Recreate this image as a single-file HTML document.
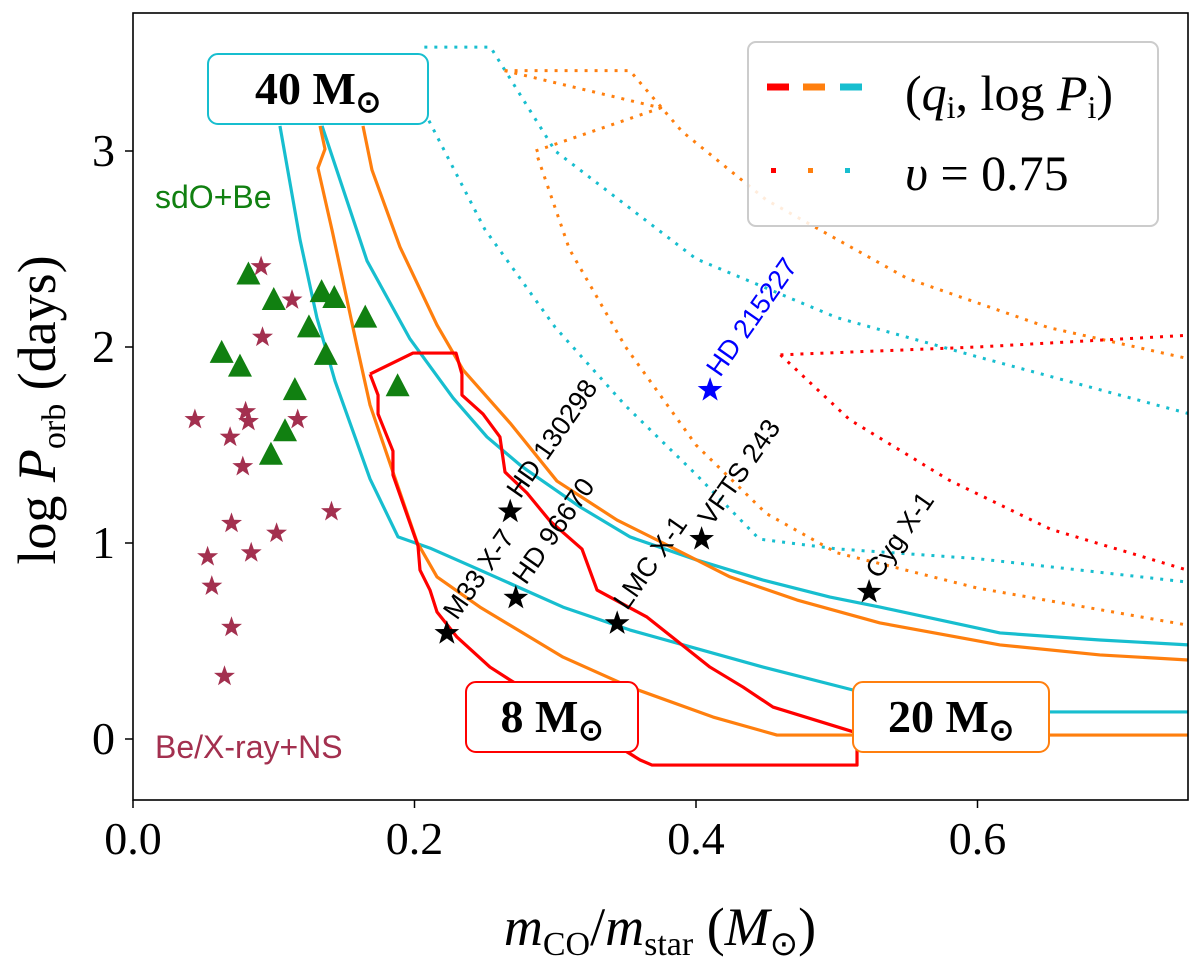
<!DOCTYPE html>
<html><head><meta charset="utf-8"><style>
body{margin:0;background:#fff;}
svg{display:block;}
.serif{font-family:"Liberation Serif",serif;}
.sans{font-family:"Liberation Sans",sans-serif;}
</style></head><body>
<svg id="chart" width="1200" height="977" xmlns="http://www.w3.org/2000/svg">
<g id="plot"></g>
<g id="axes"></g>
</svg>
<script>
const xTicks=[0.0,0.2,0.4,0.6];
const yTicks=[0,1,2,3];
const cyanA=[[0.1044,3.128],[0.1187,2.546],[0.1307,2.148],[0.1435,1.827],[0.1684,1.327],[0.1883,1.031],[0.2110,0.974],[0.2465,0.862],[0.3055,0.673],[0.3531,0.556],[0.4476,0.367],[0.5115,0.25],[0.5307,0.138],[0.75,0.138]];
const cyanB=[[0.1343,3.128],[0.1663,2.439],[0.1968,2.041],[0.2274,1.740],[0.2515,1.541],[0.2750,1.398],[0.2799,1.372],[0.3176,1.184],[0.3531,1.031],[0.4007,0.913],[0.4476,0.811],[0.4952,0.724],[0.5307,0.673],[0.616,0.541],[0.687,0.505],[0.75,0.48]];
const orangeA=[[0.1634,3.128],[0.1698,2.903],[0.1897,2.510],[0.2160,2.112],[0.2345,1.883],[0.2679,1.612],[0.3012,1.316],[0.3439,1.117],[0.3766,1.0],[0.4242,0.827],[0.4718,0.709],[0.5307,0.592],[0.616,0.480],[0.687,0.429],[0.75,0.403]];
const orangeB=[[0.1329,3.128],[0.1364,3.010],[0.1314,2.913],[0.1414,2.597],[0.1591,2.005],[0.1684,1.704],[0.1847,1.362],[0.2018,1.005],[0.2160,0.827],[0.2465,0.673],[0.3055,0.418],[0.3531,0.265],[0.4121,0.112],[0.4575,0.020],[0.75,0.020]];
const redLoop=[[0.1684,1.862],[0.1989,1.969],[0.2295,1.969],[0.2337,1.862],[0.2337,1.755],[0.2487,1.658],[0.2607,1.541],[0.2643,1.362],[0.2799,1.255],[0.2963,1.112],[0.3190,0.969],[0.3297,0.760],[0.3652,0.622],[0.4099,0.367],[0.4334,0.265],[0.4547,0.163],[0.5144,0.031],[0.5144,-0.133],[0.3687,-0.133],[0.3603,-0.107],[0.2679,0.301],[0.2536,0.367],[0.2302,0.520],[0.2160,0.648],[0.2110,0.760],[0.2039,0.862],[0.2025,0.985],[0.1847,1.347],[0.1847,1.469],[0.1741,1.658],[0.1741,1.755],[0.1684,1.862]];
const cyanDotA=[[0.207,3.2],[0.25,2.6],[0.3,2.1],[0.35,1.7],[0.4,1.35],[0.445,1.02],[0.5,0.97],[0.6,0.92],[0.75,0.8]];
const cyanDotB=[[0.207,3.53],[0.254,3.53],[0.3,3.0],[0.4,2.45],[0.5,2.15],[0.6,1.95],[0.75,1.66]];
const orangeDotA=[[0.264,3.41],[0.353,3.41],[0.39,3.1],[0.45,2.75],[0.55,2.35],[0.65,2.1],[0.75,1.94]];
const orangeDotB=[[0.264,3.41],[0.375,3.22],[0.286,3.0],[0.31,2.5],[0.35,2.0],[0.4,1.5],[0.45,1.15],[0.5,0.95],[0.6,0.77],[0.75,0.58]];
const redDotA=[[0.46,1.96],[0.6,2.0],[0.75,2.06]];
const redDotB=[[0.46,1.96],[0.509,1.63],[0.58,1.32],[0.652,1.07],[0.75,0.86]];
const bhNames=["M33 X-7","HD 96670","HD 130298","LMC X-1","VFTS 243","Cyg X-1"];
const bhQ=[0.223,0.272,0.268,0.344,0.404,0.523];
const bhP=[0.54,0.72,1.16,0.59,1.02,0.75];
const blueQ=[0.41],blueP=[1.78];
const triQ=[0.082,0.1,0.134,0.143,0.165,0.125,0.063,0.076,0.137,0.115,0.188,0.108,0.098];
const triP=[2.37,2.24,2.28,2.25,2.15,2.1,1.97,1.9,1.96,1.78,1.8,1.57,1.45];
const nsQ=[0.091,0.113,0.092,0.044,0.08,0.082,0.069,0.117,0.078,0.141,0.07,0.102,0.084,0.053,0.056,0.07,0.065];
const nsP=[2.41,2.24,2.05,1.63,1.67,1.62,1.54,1.63,1.39,1.16,1.1,1.05,0.95,0.93,0.78,0.57,0.32];

const L=133,R=1188,T=13,B=800;
const X=q=>L+q*1407.5;
const Y=p=>739-p*196;
const NS="http://www.w3.org/2000/svg";
const plot=document.getElementById('plot'),axes=document.getElementById('axes');
function mk(tag,attrs,parent,text){const e=document.createElementNS(NS,tag);for(const k in attrs)e.setAttribute(k,attrs[k]);if(text!==undefined)e.textContent=text;parent.appendChild(e);return e;}
const clip=mk('clipPath',{id:'cl'},plot);mk('rect',{x:L,y:T,width:R-L,height:B-T},clip);
const g=mk('g',{'clip-path':'url(#cl)'},plot);
function line(pts,color,dash,name){
  const e=mk('polyline',{points:pts.map(p=>X(p[0])+','+Y(p[1])).join(' '),fill:'none',stroke:color,'stroke-width':dash?3:3.2,'stroke-dasharray':dash?'3,7':'none','stroke-linejoin':'round'},g);
  
  
}
line(cyanDotA,'#17becf',true,'cyan-dotted-inner');
line(cyanDotB,'#17becf',true,'cyan-dotted-outer');
line(orangeDotA,'#ff7f0e',true,'orange-dotted-outer');
line(orangeDotB,'#ff7f0e',true,'orange-dotted-inner');
line(redDotA,'#ff0000',true,'red-dotted-upper');
line(redDotB,'#ff0000',true,'red-dotted-lower');
line(cyanA,'#17becf',false,'cyan-line-a');
line(cyanB,'#17becf',false,'cyan-line-b');
line(orangeA,'#ff7f0e',false,'orange-line-a');
line(orangeB,'#ff7f0e',false,'orange-line-b');
line(redLoop,'#ff0000',false,'red-loop');
function star(cx,cy,r,fill){let pts=[];for(let i=0;i<10;i++){const a=-Math.PI/2+i*Math.PI/5;const rr=i%2?r*0.4:r;pts.push((cx+rr*Math.cos(a)).toFixed(1)+','+(cy+rr*Math.sin(a)).toFixed(1));}return mk('polygon',{points:pts.join(' '),fill:fill},g);}
nsQ.forEach((q,i)=>{const e=star(X(q),Y(nsP[i]),11,'#a3304f');});
triQ.forEach((q,i)=>{const cx=X(q),cy=Y(triP[i]);const e=mk('polygon',{points:`${cx},${cy-13} ${cx-12},${cy+10} ${cx+12},${cy+10}`,fill:'#118011'},g);});
bhQ.forEach((q,i)=>{const cx=X(q),cy=Y(bhP[i]);const e=star(cx,cy,13,'#000');
 const t=mk('text',{x:cx+10,y:cy-12,transform:`rotate(-55 ${cx+10} ${cy-12})`,'font-size':27,class:'sans',fill:'#000'},plot,bhNames[i]);});
blueQ.forEach((q,i)=>{const cx=X(q),cy=Y(blueP[i]);const e=star(cx,cy,13,'#0000ff');
 const t=mk('text',{x:cx+10,y:cy-12,transform:`rotate(-55 ${cx+10} ${cy-12})`,'font-size':27,class:'sans',fill:'#0000ff'},plot,'HD 215227');});
mk('rect',{x:L,y:T,width:R-L,height:B-T,fill:'none',stroke:'#000','stroke-width':1.6},axes);
xTicks.forEach(v=>{const x=X(v);mk('line',{x1:x,x2:x,y1:B,y2:B+8,stroke:'#000','stroke-width':1.5},axes);const t=mk('text',{x:x,y:B+54,'text-anchor':'middle','font-size':46,class:'serif'},axes,v.toFixed(1));});
yTicks.forEach(v=>{const y=Y(v);mk('line',{x1:L-8,x2:L,y1:y,y2:y,stroke:'#000','stroke-width':1.5},axes);const t=mk('text',{x:L-18,y:y+15,'text-anchor':'end','font-size':46,class:'serif'},axes,String(v));});
</script>
<svg style="position:absolute;left:0;top:0" width="1200" height="977" xmlns="http://www.w3.org/2000/svg">
<g class="serif">
<text x="660" y="945" font-size="54" text-anchor="middle"><tspan font-style="italic">m</tspan><tspan font-size="34" dy="10">CO</tspan><tspan dy="-10">/</tspan><tspan font-style="italic">m</tspan><tspan font-size="34" dy="10">star</tspan><tspan dy="-10"> (</tspan><tspan font-style="italic">M</tspan><tspan font-size="34" dy="10">⊙</tspan><tspan dy="-10">)</tspan></text>
<text transform="translate(55 410) rotate(-90)" font-size="54" text-anchor="middle">log <tspan font-style="italic">P</tspan><tspan font-size="34" dy="10">orb</tspan><tspan dy="-10"> (days)</tspan></text>
</g>
<rect x="748" y="42" width="410" height="184" rx="8" fill="#fff" fill-opacity="0.85" stroke="#ccc" stroke-width="2"/>
<g>
<line x1="767" y1="87" x2="789" y2="87" stroke="#f00" stroke-width="7"/>
<line x1="803" y1="87" x2="825" y2="87" stroke="#ff7f0e" stroke-width="7"/>
<line x1="840" y1="87" x2="862" y2="87" stroke="#17becf" stroke-width="7"/>
<text x="905" y="110" font-size="50" class="serif">(<tspan font-style="italic">q</tspan><tspan font-size="32" dy="8">i</tspan><tspan dy="-8">, log </tspan><tspan font-style="italic">P</tspan><tspan font-size="32" dy="8">i</tspan><tspan dy="-8">)</tspan></text>
</g>
<g>
<rect x="771" y="168" width="5" height="5" fill="#f00"/><rect x="808" y="168" width="5" height="5" fill="#ff7f0e"/><rect x="845" y="168" width="5" height="5" fill="#17becf"/>
<text x="905" y="190" font-size="50" class="serif"><tspan font-style="italic">υ</tspan> = 0.75</text>
</g>
<g><rect x="208" y="54" width="220" height="70" rx="10" fill="#fff" stroke="#17becf" stroke-width="2"/><text x="318" y="104" font-size="46" font-weight="bold" text-anchor="middle" class="serif">40 M<tspan font-size="30" dy="8">⊙</tspan></text></g>
<g><rect x="466" y="682" width="172" height="70" rx="10" fill="#fff" stroke="#f00" stroke-width="2"/><text x="552" y="732" font-size="46" font-weight="bold" text-anchor="middle" class="serif">8 M<tspan font-size="30" dy="8">⊙</tspan></text></g>
<g><rect x="853" y="682" width="196" height="70" rx="10" fill="#fff" stroke="#ff7f0e" stroke-width="2"/><text x="951" y="732" font-size="46" font-weight="bold" text-anchor="middle" class="serif">20 M<tspan font-size="30" dy="8">⊙</tspan></text></g>
<text x="155" y="208" font-size="32" fill="#118011" class="sans">sdO+Be</text>
<text x="155" y="758" font-size="32" fill="#a3304f" class="sans">Be/X-ray+NS</text>
</svg>
</body></html>
